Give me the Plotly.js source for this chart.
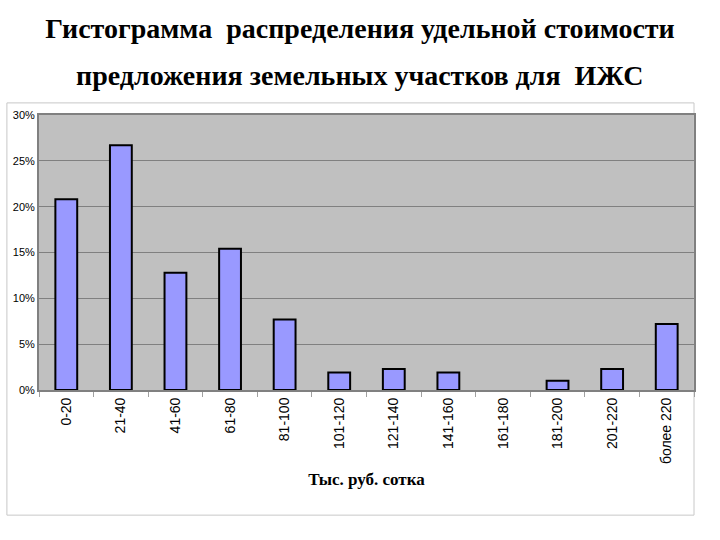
<!DOCTYPE html>
<html>
<head>
<meta charset="utf-8">
<script src="https://cdn.plot.ly/plotly-3.0.1.min.js"></script>
<style>body{margin:0;background:#fff}#chart{width:720px;height:540px}</style>
</head>
<body>
<div id="chart"></div>
<script>
// интервалы цены, тыс. руб. за сотку
var categories = ['0-20', '21-40', '41-60', '61-80', '81-100', '101-120',
  '121-140', '141-160', '161-180', '181-200', '201-220', 'более 220'];
// доля предложений, % (в интервале 161-180 предложений нет)
var shares = [20.8, 26.7, 12.8, 15.4, 7.7, 1.9, 2.3, 1.9, null, 1.0, 2.3, 7.2];
var yTicks = [0, 5, 10, 15, 20, 25, 30];
var yTickText = ['0%', '5%', '10%', '15%', '20%', '25%', '30%'];

var trace1 = {
  x: categories,
  y: shares,
  type: 'bar',
  hoverinfo: 'x+y',
  marker: {
    color: 'rgb(153,153,255)',
    line: {color: '#000000', width: 2}
  }
};

var layout = {
  width: 720,
  height: 540,
  margin: {l: 39, r: 26, t: 115, b: 150},
  paper_bgcolor: '#ffffff',
  plot_bgcolor: '#c0c0c0',
  bargap: 0.6,
  showlegend: false,
  title: {
    text: 'Гистограмма  распределения удельной стоимости',
    font: {family: 'Liberation Serif', size: 28, color: '#000000', weight: 'bold'},
    x: 0.5, xanchor: 'center',
    y: 0.948, yanchor: 'middle', yref: 'container'
  },
  annotations: [{
    text: '<b>предложения земельных участков для  ИЖС</b>',
    xref: 'paper', yref: 'paper', x: 0.49, y: 1.144,
    xanchor: 'center', yanchor: 'middle', showarrow: false,
    font: {family: 'Liberation Serif', size: 28, color: '#000000'}
  }],
  xaxis: {
    type: 'category',
    tickangle: -90,
    tickfont: {family: 'Liberation Sans', size: 14, color: '#000000'},
    ticks: 'outside',
    tickson: 'boundaries',
    ticklen: 5,
    tickcolor: '#a0a0a0',
    showline: true,
    linecolor: '#808080',
    linewidth: 2,
    mirror: true,
    automargin: false,
    title: {
      text: '<b>Тыс. руб. сотка</b>',
      font: {family: 'Liberation Serif', size: 17, color: '#000000'},
      standoff: 10
    }
  },
  yaxis: {
    range: [0, 30],
    tickmode: 'array',
    tickvals: yTicks,
    ticktext: yTickText,
    tickfont: {family: 'Liberation Sans', size: 11, color: '#000000'},
    showgrid: true,
    gridcolor: '#808080',
    gridwidth: 1,
    showline: true,
    linecolor: '#808080',
    linewidth: 2,
    mirror: true,
    zeroline: false,
    automargin: false
  },
  shapes: [{
    type: 'rect', xref: 'paper', yref: 'paper',
    x0: -0.049, x1: 1.0, y0: -0.455, y1: 1.044,
    line: {color: '#c8c8c8', width: 1},
    layer: 'below'
  }]
};

Plotly.newPlot('chart', [trace1], layout, {displayModeBar: false});
</script>
</body>
</html>
